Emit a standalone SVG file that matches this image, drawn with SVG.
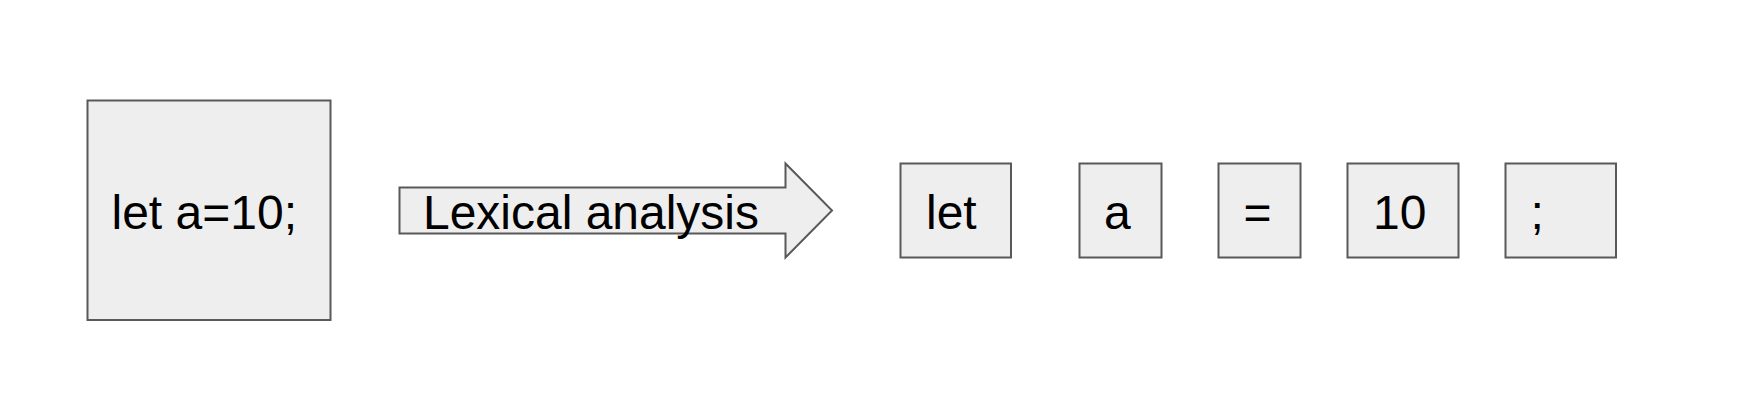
<svg xmlns="http://www.w3.org/2000/svg" width="1740" height="406" viewBox="0 0 1740 406">
<style>
.box{fill:#eeeeee;stroke:#595959;stroke-width:2}
.t{font-family:"Liberation Sans",Arial,sans-serif;font-size:48px;fill:#000}
</style>
<rect width="1740" height="406" fill="#ffffff"/>
<g id="source">
<rect class="box" x="87.5" y="100.5" width="243" height="219.5"/>
<text class="t" x="111.5" y="228.5">let a=10;</text>
</g>
<g id="connectors">
<g id="lexical-analysis">
<path class="box" d="M399.5 187.5 H785.5 V163.5 L832 210.5 L785.5 257.5 V233.5 H399.5 Z"/>
<text class="t" x="423" y="229" textLength="336" lengthAdjust="spacingAndGlyphs">Lexical analysis</text>
</g>
</g>
<g id="token-let">
<rect class="box" x="900.5" y="163.5" width="110.5" height="94"/>
<text class="t" x="926" y="229">let</text>
</g>
<g id="token-a">
<rect class="box" x="1079.5" y="163.5" width="82" height="94"/>
<text class="t" x="1104" y="229">a</text>
</g>
<g id="token-eq">
<rect class="box" x="1218.5" y="163.5" width="82" height="94"/>
<text class="t" x="1243.5" y="229">=</text>
</g>
<g id="token-10">
<rect class="box" x="1347.5" y="163.5" width="111" height="94"/>
<text class="t" x="1373" y="229">10</text>
</g>
<g id="token-semi">
<rect class="box" x="1505.5" y="163.5" width="110.5" height="94"/>
<text class="t" x="1530.5" y="229">;</text>
</g>
</svg>
